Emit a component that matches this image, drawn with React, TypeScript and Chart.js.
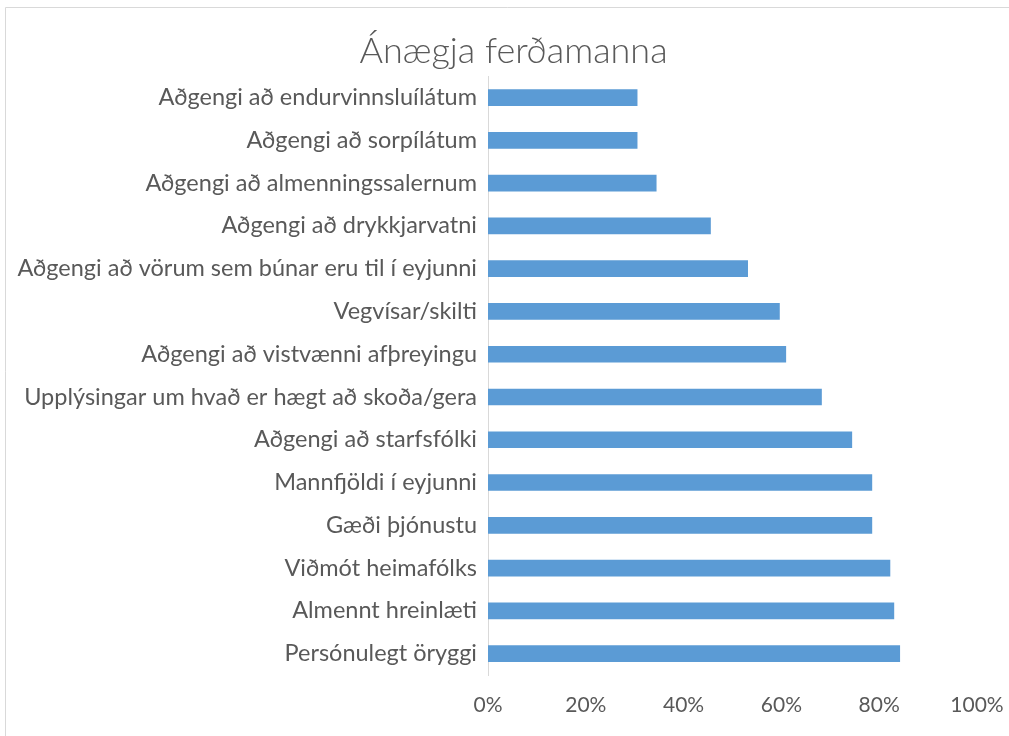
import React, { useEffect, useRef } from "react";
import { Chart, registerables } from "chart.js";

Chart.register(...registerables);

const categories = [
  "Aðgengi að endurvinnsluílátum",
  "Aðgengi að sorpílátum",
  "Aðgengi að almenningssalernum",
  "Aðgengi að drykkjarvatni",
  "Aðgengi að vörum sem búnar eru til í eyjunni",
  "Vegvísar/skilti",
  "Aðgengi að vistvænni afþreyingu",
  "Upplýsingar um hvað er hægt að skoða/gera",
  "Aðgengi að starfsfólki",
  "Mannfjöldi í eyjunni",
  "Gæði þjónustu",
  "Viðmót heimafólks",
  "Almennt hreinlæti",
  "Persónulegt öryggi",
];

const values = [30.5, 30.5, 34.4, 45.5, 53.1, 59.6, 60.9, 68.2, 74.4, 78.5, 78.5, 82.2, 83.0, 84.2];

const tickValues = [0, 20, 40, 60, 80, 100];

const title = "Ánægja ferðamanna";

const borderPlugin = {
  id: "frame",
  afterLayout(chart: any) {
    // centre the title over the outlined frame (which starts at x = 5)
    if (chart.titleBlock) {
      chart.titleBlock.left = 18;
    }
  },
  beforeDraw(chart: any) {
    const ctx = chart.ctx;
    ctx.save();
    ctx.strokeStyle = "#d9d9d9";
    ctx.lineWidth = 1;
    ctx.beginPath();
    ctx.moveTo(5.5, chart.height);
    ctx.lineTo(5.5, 7.5);
    ctx.lineTo(chart.width, 7.5);
    ctx.stroke();
    ctx.restore();
  },
};

export default function App() {
  const ref = useRef<HTMLCanvasElement>(null);
  useEffect(() => {
    document.body.style.margin = "0";
    const chart = new Chart(ref.current!, {
      type: "bar",
      data: {
        labels: categories,
        datasets: [
          {
            data: values,
            backgroundColor: "#5b9bd5",
            barThickness: 16,
          },
        ],
      },
      plugins: [borderPlugin],
      options: {
        indexAxis: "y",
        animation: false,
        responsive: false,
        layout: { padding: { left: 0, right: 0, top: 0, bottom: 0 } },
        plugins: {
          legend: { display: false },
          tooltip: { enabled: false },
          title: {
            display: true,
            text: title,
            color: "#595959",
            font: { family: "Lato", size: 36, weight: "300" },
            padding: { top: 30, bottom: 3 },
          },
        },
        scales: {
          x: {
            min: 0,
            max: 100,
            afterBuildTicks(scale: any) {
              scale.ticks = tickValues.map((v) => ({ value: v }));
            },
            afterFit(scale: any) {
              scale.paddingLeft = 0;
              scale.paddingRight = 32;
            },
            grid: { display: false, drawTicks: false },
            border: { display: false },
            ticks: {
              color: "#595959",
              font: { family: "Lato", size: 21, lineHeight: 1 },
              padding: 20,
              callback: (v: any) => v + "%",
            },
          },
          y: {
            afterFit(scale: any) {
              scale.width = 488;
            },
            grid: { display: false, drawTicks: false },
            border: { display: true, color: "#d9d9d9", width: 1 },
            ticks: {
              color: "#595959",
              font: { family: "Lato", size: 23.5 },
              padding: 11,
              autoSkip: false,
            },
          },
        },
      },
    });
    return () => chart.destroy();
  }, []);
  return <canvas ref={ref} width={1009} height={736} style={{ display: "block" }} />;
}
